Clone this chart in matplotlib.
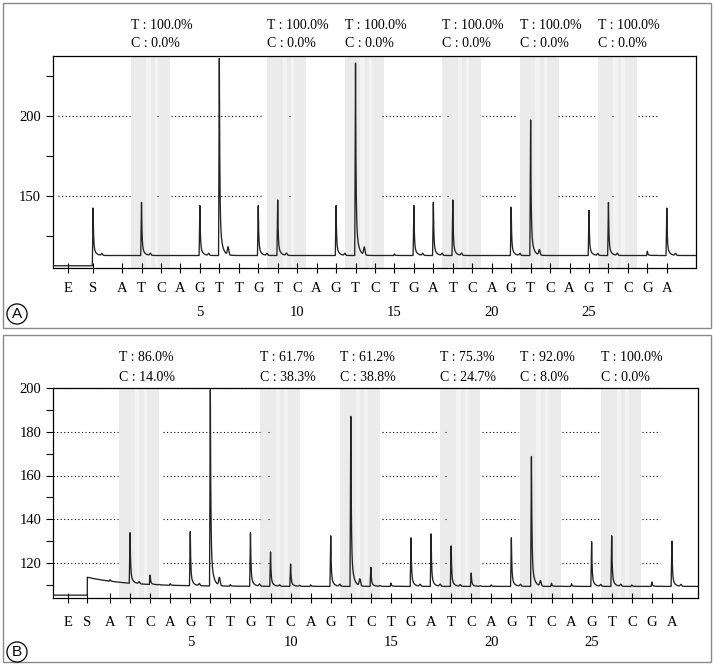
import numpy as np
import matplotlib
matplotlib.use("Agg")
from matplotlib import pyplot as plt
from matplotlib.patches import Rectangle

plt.rcParams['font.family'] = ['Liberation Serif', 'DejaVu Serif']

# dispensation order (positions 1..29)
dispensations = list("ATCAGTTGTCAGTCTGATCAGTCAGTCGA")
position_numbers = [5, 10, 15, 20, 25]

# peak tops, one per dispensation
heights_a = [113, 146, 113, 113, 144, 236, 113, 144, 147.5, 113,
             113, 144, 233, 113, 113.8, 144, 146, 147.5, 113, 113,
             143, 197.5, 113, 113, 141, 146, 113, 115.5, 142.5]
heights_b = [110, 132.4, 113.6, 110, 134, 199, 110, 133.8, 125, 119.5,
             110, 132.4, 187, 118, 110.8, 131.5, 133.3, 127.8, 115.4, 110,
             131.5, 168.7, 110.8, 110.5, 129.7, 132.4, 110, 111.3, 130]

# T/C ratio labels above the shaded T-C pairs
t_positions = [2, 9, 13, 18, 22, 26]
t_pct_a = ['100.0', '100.0', '100.0', '100.0', '100.0', '100.0']
c_pct_a = ['0.0', '0.0', '0.0', '0.0', '0.0', '0.0']
t_pct_b = ['86.0', '61.7', '61.2', '75.3', '92.0', '100.0']
c_pct_b = ['14.0', '38.3', '38.8', '24.7', '8.0', '0.0']

# start signal
s_peak_a = 142.5
pre_a, post_a = 106.4, 112.8
pre_b, post_b, step_b = 105.3, 109.3, 4.2

# dotted guide segments (dispensation units), broken like the original
grid_a = [(-2.3, 1.4), (2.78, 2.83), (3.52, 8.26), (9.58, 9.63), (14.38, 17.47),
          (17.71, 17.76), (19.5, 21.3), (23.4, 25.4), (26.18, 26.23), (27.5, 28.6)]
grid_b = [(-1.84, 1.4), (3.65, 8.47), (8.85, 8.9), (14.55, 17.35), (17.68, 17.73),
          (19.55, 21.35), (23.5, 25.35), (27.5, 28.4)]


def peak_shape(x, x0, amp):
    dx = x - x0
    y = np.zeros_like(x)
    rise = (dx > -0.04) & (dx < 0)
    y[rise] = amp * (1 + dx[rise] / 0.04)
    dec = dx >= 0
    d = dx[dec]
    y[dec] = amp * (0.8 * np.exp(-d / 0.025) + 0.2 * np.exp(-d / 0.12)
                    + 0.04 * np.exp(-((d - 0.45) / 0.05) ** 2))
    return y


def draw_panel(ax, heights, xlim, ylim, e_pos, s_pos, base_fn, s_amp,
               t_pct, c_pct, grid, grid_vals, major, minor, txt_y, lab_y):
    # sample grid that always contains the exact peak positions
    x = np.arange(xlim[0], xlim[1], 0.004)
    x = np.unique(np.concatenate([x, np.arange(1, 30, dtype=float), [s_pos]]))
    base = base_fn(x)
    level = base[-1]
    y = base.copy()
    for i, h in enumerate(heights):
        if h - level > 0.3:
            y += peak_shape(x, i + 1, h - level)
    if s_amp:
        y += peak_shape(x, s_pos, s_amp)
    # shaded T/C pairs
    tr = ax.get_xaxis_transform()
    for k, tp in enumerate(t_positions):
        a, b = tp - 0.55, tp + 1.45
        ax.axvspan(a, b, color='#ebebeb', lw=0, zorder=0)
        ax.axvspan(a + 0.8, a + 1.02, color='#f3f3f3', lw=0, zorder=0)
        ax.axvspan(a + 1.22, a + 1.4, color='#f3f3f3', lw=0, zorder=0)
        ax.text(a, txt_y[0], 'T : %s%%' % t_pct[k], transform=tr,
                ha='left', va='center', fontsize=10)
        ax.text(a, txt_y[1], 'C : %s%%' % c_pct[k], transform=tr,
                ha='left', va='center', fontsize=10)
    for gv in grid_vals:
        for g0, g1 in grid:
            ax.plot([g0, g1], [gv, gv], color='black', lw=0.8,
                    linestyle=(0, (1, 2.2)), zorder=1, clip_on=False)
    ax.plot(x, y, color='#222222', lw=0.95, zorder=3)
    ax.set_xlim(*xlim)
    ax.set_ylim(*ylim)
    xt = [e_pos, s_pos] + list(range(1, 30))
    ax.set_xticks(xt)
    ax.set_xticklabels([])
    ax.tick_params(axis='x', direction='inout', length=7, width=0.8)
    ax.set_yticks(major)
    ax.set_yticks(minor, minor=True)
    ax.tick_params(axis='y', which='both', direction='out', length=5, width=0.8,
                   labelsize=10.5)
    for xp, lab in zip(xt, ['E', 'S'] + dispensations):
        ax.text(xp, lab_y[0], lab, transform=tr, ha='center', va='center', fontsize=10.5)
    for n in position_numbers:
        ax.text(n, lab_y[1], str(n), transform=tr, ha='center', va='center', fontsize=10.5)
    for sp in ax.spines.values():
        sp.set_linewidth(0.9)


fig = plt.figure(figsize=(7.14, 6.66), dpi=100)

# panel A
ax1 = fig.add_axes([53 / 714, (666 - 268) / 666, 643 / 714, 212 / 666])
s_a = -0.49
draw_panel(ax1, heights_a, (-2.55, 30.5), (105, 237.5), -1.76, s_a,
           lambda x: np.where(x < s_a, pre_a, post_a), s_peak_a - post_a,
           t_pct_a, c_pct_a, grid_a, [150, 200], [150, 200], [125, 175, 225],
           (1.146, 1.061), (-0.099, -0.208))

# panel B
ax2 = fig.add_axes([53 / 714, (666 - 598) / 666, 645 / 714, 210 / 666])
s_b = -0.13
draw_panel(ax2, heights_b, (-1.84, 30.3), (104, 200), -1.08, s_b,
           lambda x: np.where(x < s_b, pre_b,
                              post_b + step_b * np.exp(-np.clip(x - s_b, 0, None) / 2.0)),
           0, t_pct_b, c_pct_b, grid_b, [120, 140, 160, 180, 200],
           [120, 140, 160, 180, 200], [110, 130, 150, 170, 190],
           (1.143, 1.052), (-0.119, -0.214))

# panel frames and circled letters
for top, bot in [(3, 328), (335, 662)]:
    fig.add_artist(Rectangle((3 / 714, (666 - bot) / 666), 708 / 714, (bot - top) / 666,
                             transform=fig.transFigure, fill=False,
                             edgecolor='#8a8a8a', lw=1.0))
for lab, cy in [('A', 314), ('B', 652)]:
    fig.text(17 / 714, (666 - cy) / 666, lab, ha='center', va='center', fontsize=11,
             family=['Liberation Sans', 'DejaVu Sans'],
             bbox=dict(boxstyle='circle,pad=0.2', fc='white', ec='black', lw=0.9))

fig.savefig('out.png', dpi=100)
